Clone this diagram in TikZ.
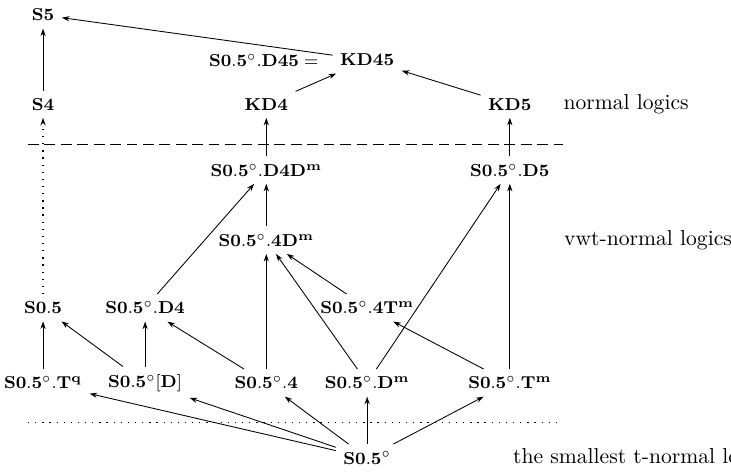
\documentclass[tikz,border=0pt]{standalone}
\usepackage{amsmath,amssymb}
\usepackage{tikz}
\usetikzlibrary{arrows.meta,positioning}

\tikzset{
  logic/.style={font=\footnotesize},
  label/.style={anchor=west,font=\normalsize},
  imp/.style={-{Stealth[length=3.5pt,width=2.4pt]}},
  dotline/.style={line width=0.6pt,dash pattern=on 0.6pt off 2.7pt},
}

\begin{document}
\begin{tikzpicture}
\useasboundingbox (0,0) rectangle (11.886,7.675);
% normal logics
\node[logic] (s5) at (0.70,7.43) {$\mathbf{S5}$};
\node[logic] (kd45) at (5.97,6.70) {$\mathbf{KD45}$};
\node[logic,left=3pt of kd45] (d45) {$\mathbf{S0.5^\circ.D45} =$};
\node[logic] (s4) at (0.70,5.98) {$\mathbf{S4}$};
\node[logic] (kd4) at (4.33,5.98) {$\mathbf{KD4}$};
\node[logic] (kd5) at (8.29,5.98) {$\mathbf{KD5}$};
\node[label] (lnormal) at (9.04,5.98) {normal logics};
\draw[dash pattern=on 5pt off 2.6pt] (0.455,5.32) -- (9.155,5.32);
% vwt-normal logics
\node[logic] (d4dm) at (4.33,4.91) {$\mathbf{S0.5^\circ.D4D^m}$};
\node[logic] (d5) at (8.29,4.91) {$\mathbf{S0.5^\circ.D5}$};
\node[logic] (fourdm) at (4.33,3.77) {$\mathbf{S0.5^\circ.4D^m}$};
\node[label] (lvwt) at (9.05,3.77) {vwt-normal logics};
\node[logic] (s05) at (0.70,2.67) {$\mathbf{S0.5}$};
\node[logic] (d4) at (2.36,2.67) {$\mathbf{S0.5^\circ.D4}$};
\node[logic] (fourtm) at (5.97,2.67) {$\mathbf{S0.5^\circ.4T^m}$};
\node[logic] (tq) at (0.70,1.45) {$\mathbf{S0.5^\circ.T^q}$};
\node[logic] (bd) at (2.36,1.45) {$\mathbf{S0.5^\circ[D]}$};
\node[logic] (four) at (4.33,1.45) {$\mathbf{S0.5^\circ.4}$};
\node[logic] (dm) at (5.97,1.45) {$\mathbf{S0.5^\circ.D^m}$};
\node[logic] (tm) at (8.29,1.45) {$\mathbf{S0.5^\circ.T^m}$};
\draw[dotline] (0.455,0.80) -- (9.06,0.80);
% the smallest one
\node[logic] (bot) at (5.97,0.23) {$\mathbf{S0.5^\circ}$};
\node[label] (lsmall) at (8.22,0.23) {the smallest t-normal logics};
\foreach \a/\b in {s4/s5,kd45/s5,kd4/kd45,kd5/kd45,d4dm/kd4,d5/kd5,
  fourdm/d4dm,d4/d4dm,dm/d5,tm/d5,fourtm/fourdm,four/fourdm,dm/fourdm,
  tm/fourtm,tq/s05,bd/s05,bd/d4,four/d4,
  bot/tq,bot/bd,bot/four,bot/dm,bot/tm}
  \draw[imp] (\a) -- (\b);
\draw[imp,dotline] (s05) -- (s4);
\end{tikzpicture}
\end{document}
